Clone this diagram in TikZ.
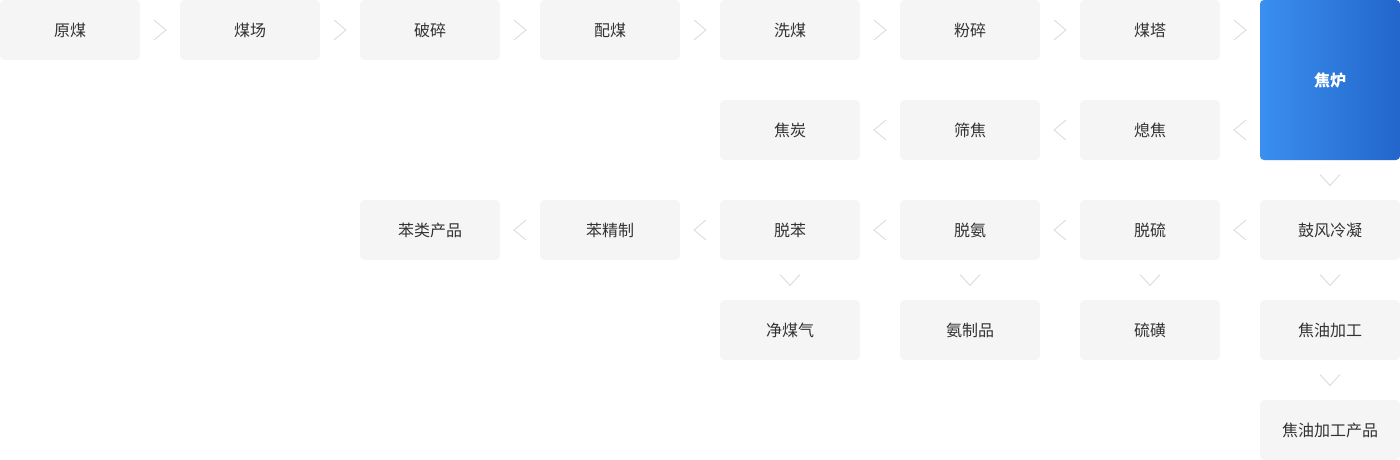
\documentclass[tikz,border=0pt]{standalone}
\usepackage{fontspec}
\setmainfont{Noto Sans CJK SC}
\usetikzlibrary{positioning,calc}
\definecolor{boxgray}{HTML}{F5F5F5}
\definecolor{txtgray}{HTML}{333333}
\definecolor{chevgray}{HTML}{DEDEDE}
\definecolor{ovenleft}{HTML}{3A8FEF}
\definecolor{ovenright}{HTML}{2366CC}

\tikzset{
  proc/.style={rectangle, rounded corners=4pt, fill=boxgray, text=txtgray,
    minimum width=140pt, minimum height=60pt, inner sep=0pt,
    font=\fontsize{16pt}{19pt}\selectfont},
  oven/.style={proc, minimum height=160pt, left color=ovenleft, right color=ovenright,
    text=white, font=\fontsize{16pt}{19pt}\selectfont\bfseries},
  chev/.style={draw=none, fill=none, inner sep=0pt},
  fwd/.style={chev, minimum width=14pt, minimum height=22pt,
    path picture={\draw[chevgray, line width=1pt]
      ([shift={(1pt,-1pt)}]path picture bounding box.north west) --
      ([xshift=-1pt]path picture bounding box.east) --
      ([shift={(1pt,1pt)}]path picture bounding box.south west);}},
  back/.style={chev, minimum width=14pt, minimum height=22pt,
    path picture={\draw[chevgray, line width=1pt]
      ([shift={(-1pt,-1pt)}]path picture bounding box.north east) --
      ([xshift=1pt]path picture bounding box.west) --
      ([shift={(-1pt,1pt)}]path picture bounding box.south east);}},
  down/.style={chev, minimum width=22pt, minimum height=13pt,
    path picture={\draw[chevgray, line width=1pt]
      ([shift={(1pt,-1pt)}]path picture bounding box.north west) --
      ([yshift=1pt]path picture bounding box.south) --
      ([shift={(-1pt,-1pt)}]path picture bounding box.north east);}}
}

\begin{document}
\begin{tikzpicture} [node distance=180pt]

  \useasboundingbox (0,0) rectangle (1400pt,-460pt);

  % coal line
  \node[proc] (1) at (70pt,-30pt) {原煤};
  \node[proc] (2) [right of=1] {煤场};
  \node[proc] (3) [right of=2] {破碎};
  \node[proc] (4) [right of=3] {配煤};
  \node[proc] (5) [right of=4] {洗煤};
  \node[proc] (6) [right of=5] {粉碎};
  \node[proc] (7) [right of=6] {煤塔};
  \node[oven] (8) [right of=7, yshift=-50pt] {焦炉};

  % coke line
  \node[proc] (9) [below of=7, node distance=100pt] {熄焦};
  \node[proc] (10) [left of=9] {筛焦};
  \node[proc] (11) [left of=10] {焦炭};

  % gas line
  \node[proc] (12) [below of=8, node distance=150pt] {鼓风冷凝};
  \node[proc] (13) [left of=12] {脱硫};
  \node[proc] (14) [left of=13] {脱氨};
  \node[proc] (15) [left of=14] {脱苯};
  \node[proc] (16) [left of=15] {苯精制};
  \node[proc] (17) [left of=16] {苯类产品};

  % products
  \node[proc] (18) [below of=12, node distance=100pt] {焦油加工};
  \node[proc] (19) [below of=13, node distance=100pt] {硫磺};
  \node[proc] (20) [below of=14, node distance=100pt] {氨制品};
  \node[proc] (21) [below of=15, node distance=100pt] {净煤气};
  \node[proc] (22) [below of=18, node distance=100pt] {焦油加工产品};

  \path[every edge/.style={draw=none}]
    (1) edge node[fwd] {} (2)
    (2) edge node[fwd] {} (3)
    (3) edge node[fwd] {} (4)
    (4) edge node[fwd] {} (5)
    (5) edge node[fwd] {} (6)
    (6) edge node[fwd] {} (7)
    (7.east) edge node[fwd] {} (7.east -| 8.west)
    (9.east -| 8.west) edge node[back] {} (9.east)
    (9) edge node[back] {} (10)
    (10) edge node[back] {} (11)
    (8.south) edge node[down] {} (12.north)
    (12) edge node[back] {} (13)
    (13) edge node[back] {} (14)
    (14) edge node[back] {} (15)
    (15) edge node[back] {} (16)
    (16) edge node[back] {} (17)
    (15) edge node[down] {} (21)
    (14) edge node[down] {} (20)
    (13) edge node[down] {} (19)
    (12) edge node[down] {} (18)
    (18) edge node[down] {} (22);

\end{tikzpicture}
\end{document}
